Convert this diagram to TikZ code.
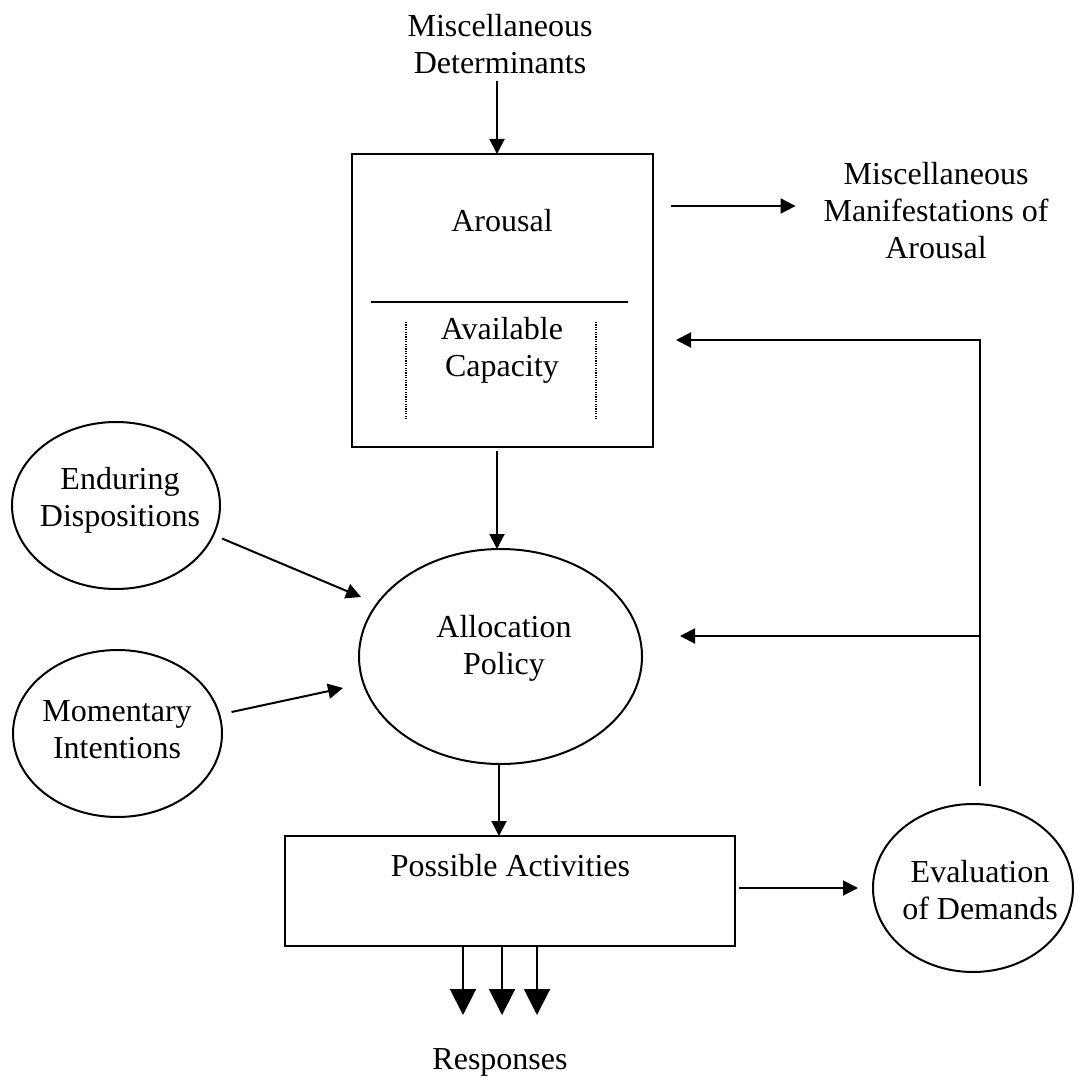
\documentclass[tikz,border=0pt]{standalone}
\usepackage{fontspec}
\setmainfont{Liberation Serif}
\usetikzlibrary{arrows.meta,shapes.geometric,calc}
\begin{document}
\begin{tikzpicture}[x=1pt,y=-1pt,
  every node/.style={inner sep=0pt,outer sep=0pt},
  lbl/.style={align=center,font=\fontsize{32}{36.7}\selectfont},
  boxshape/.style={draw,line width=2pt,rectangle},
  oval/.style={draw,line width=2pt,ellipse},
  arr/.style={line width=2pt,-{Triangle[length=15pt,width=15pt]}},
  bigarr/.style={line width=2pt,-{Triangle[length=26pt,width=26pt]}},
  rule/.style={line width=2pt},
  dotrule/.style={line width=1.2pt,dash pattern=on 1.2pt off 1.2pt}]
\useasboundingbox (0,0) rectangle (1074,1078);
\fill[white] (0,0) rectangle (1074,1078);

% arousal / capacity block
\node[lbl] (det) at (500,44) {Miscellaneous\\Determinants};
\node[boxshape,minimum width=301pt,minimum height=293pt] (arousal) at (502.5,300.5) {};
\node[lbl] (arousal-t) at (502,220.5) {Arousal};
\node[lbl] (capacity) at (502,350) {Available\\Capacity};
\draw[rule] ($(arousal.west)+(19,1.5)$) -- ($(arousal.east)+(-25,1.5)$);
\draw[dotrule] ($(arousal.west)+(54,21.5)$) -- ($(arousal.west)+(54,118.5)$);
\draw[dotrule] ($(arousal.east)+(-57,21.5)$) -- ($(arousal.east)+(-57,118.5)$);
\node[lbl] (manif) at (936,210.5) {Miscellaneous\\Manifestations of\\Arousal};

% ellipses
\node[oval,minimum width=208pt,minimum height=167pt] (endur) at (116,505.5) {};
\node[lbl] (endur-t) at (120,500.5) {Enduring\\Dispositions};
\node[oval,minimum width=209pt,minimum height=167pt] (moment) at (117.5,733.5) {};
\node[lbl] (moment-t) at (117,730) {Momentary\\Intentions};
\node[oval,minimum width=283pt,minimum height=215pt] (alloc) at (500.5,656.5) {};
\node[lbl] (alloc-t) at (504,648.5) {Allocation\\Policy};
\node[oval,minimum width=200pt,minimum height=168pt] (eval) at (973,888) {};
\node[lbl] (eval-t) at (980,890) {Evaluation\\of Demands};

% activities and responses
\node[boxshape,minimum width=450pt,minimum height=110pt] (poss) at (510,891) {};
\node[lbl] (poss-t) at (510.5,866) {Possible Activities};
\node[lbl] (resp) at (500,1062) {Responses};

% connectors
\draw[arr] ($(det.south)+(-3,7)$) -- ($(det.south |- arousal.north)+(-3,0)$);
\draw[arr] ($(arousal.east |- manif.center)+(18,-4.5)$) -- ($(manif.west)+(-28,-4.5)$);
\draw[arr] ($(arousal.south)+(-5.5,4)$) -- ($(arousal.south |- alloc.north)+(-5.5,0)$);
\draw[arr] ($(endur.east)+(2,33)$) -- ($(alloc.west)+(2,-59.5)$);
\draw[arr] ($(moment.east)+(9.5,-21.5)$) -- ($(alloc.west)+(-16,31.5)$);
\draw[arr] ($(alloc.south)+(-1.5,0)$) -- ($(alloc.south |- poss.north)+(-1.5,0)$);
\draw[arr] ($(poss.east |- eval.west)+(4,0)$) -- ($(eval.west)+(-15,0)$);

% feedback loop
\coordinate (fbtop) at (979.5,340);
\coordinate (fbmid) at (979.5,636);
\draw[arr] ($(eval.north)+(6.5,-18)$) |- ($(arousal.east |- fbtop)+(23,0)$);
\draw[arr] (fbmid) -- ($(alloc.east |- fbmid)+(38,0)$);

% responses
\foreach \dx in {-47,-8,27}
  \draw[bigarr] ($(poss.south)+(\dx,0)$) -- ($(poss.south)+(\dx,69)$);
\end{tikzpicture}
\end{document}
